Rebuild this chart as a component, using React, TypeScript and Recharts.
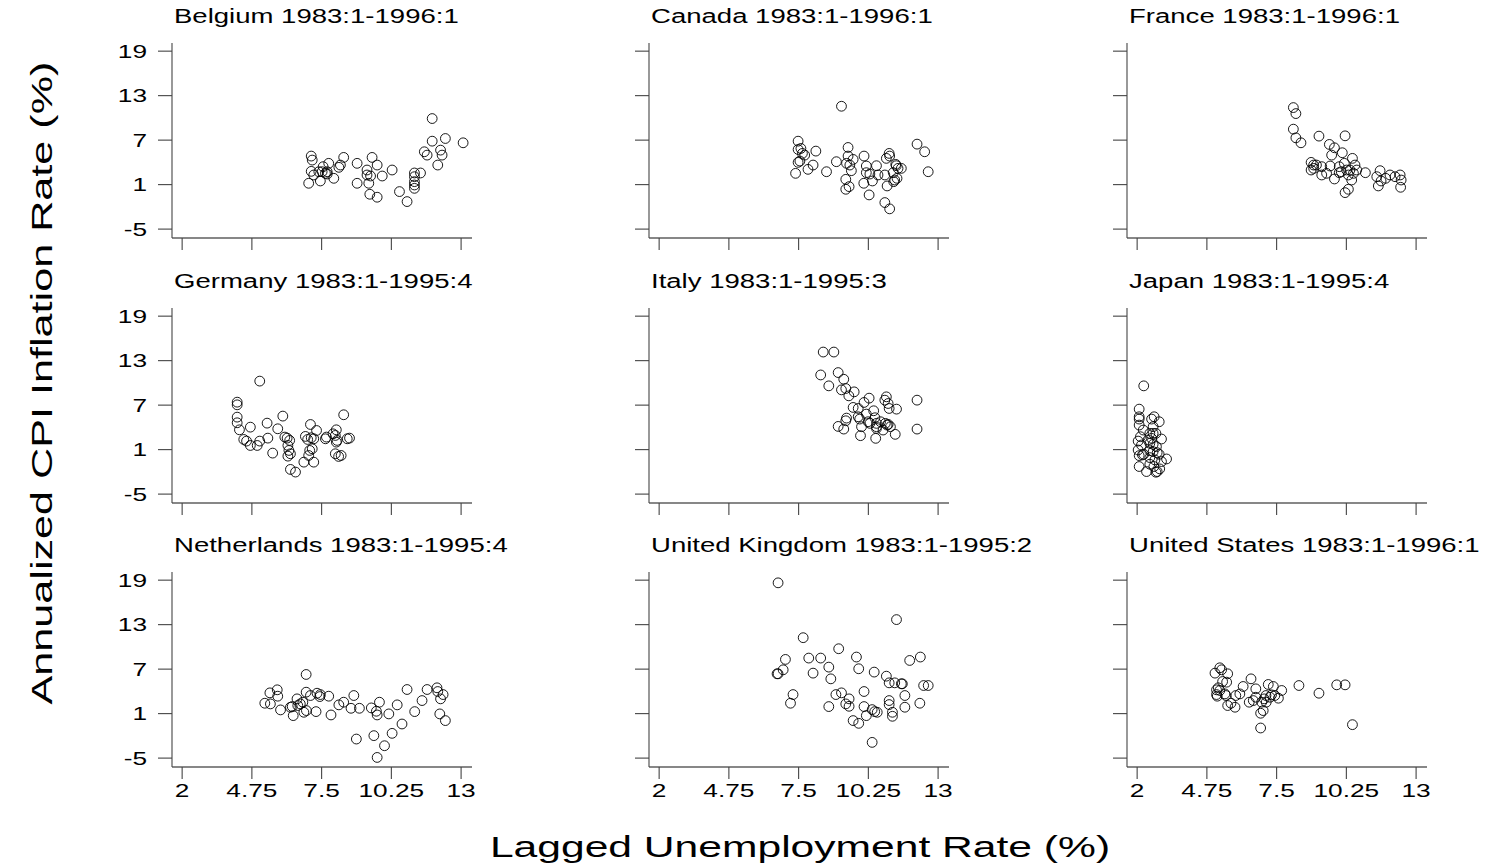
import { ScatterChart, Scatter, XAxis, YAxis } from 'recharts'

// unemployment (x) and inflation (y) per country
const belgiumU = [6.99, 7.09, 7.13, 7.09, 7.19, 7.45, 7.52, 7.56, 7.65, 7.72, 7.78, 7.98, 8.18, 8.24, 8.37, 8.9, 8.9, 9.29, 9.29, 9.36, 9.43, 9.4, 9.49, 9.69, 9.69, 9.89, 10.28, 10.57, 10.87, 11.16, 11.16, 11.16, 11.16, 11.16, 11.4, 11.55, 11.66, 11.86, 11.86, 12.08, 12.19, 12.25, 12.38, 13.08, 7.39, 7.72]
const belgiumInf = [1.18, 4.85, 4.31, 2.79, 2.3, 1.49, 2.74, 3.42, 2.52, 2.43, 3.87, 1.85, 3.33, 3.64, 4.67, 3.87, 1.18, 2.97, 2.3, 1.18, 2.16, -0.3, 4.67, 3.64, -0.7, 2.16, 2.97, 0.06, -1.29, 2.57, 2.07, 1.4, 0.95, 0.5, 2.57, 5.43, 4.98, 9.91, 6.86, 3.64, 5.65, 4.98, 7.22, 6.64, 2.74, 2.74]

const canadaU = [9.19, 7.48, 7.48, 7.59, 7.65, 7.74, 7.48, 7.55, 7.38, 7.87, 8.07, 8.18, 8.6, 8.99, 9.45, 9.45, 9.39, 9.52, 9.65, 9.58, 9.36, 9.36, 9.49, 10.08, 10.17, 10.17, 10.31, 10.07, 10.41, 10.28, 10.57, 10.63, 10.9, 10.96, 11.07, 11.09, 10.99, 10.9, 11.09, 11.23, 11.29, 11.33, 11.42, 11.38, 11.55, 11.25, 12.17, 12.47, 12.61, 11.35]
const canadaInf = [11.57, 6.86, 5.74, 5.88, 5.21, 4.98, 4.0, 4.18, 2.52, 3.06, 3.64, 5.52, 2.74, 4.09, 6.01, 4.85, 3.87, 3.64, 4.4, 2.88, 1.71, 0.37, 0.73, 4.85, 3.51, 2.61, 2.43, 1.18, 1.49, -0.39, 3.55, 2.3, 2.3, 4.54, 5.21, 4.85, 0.82, -1.42, -2.27, 2.61, 1.62, 3.73, 3.19, 1.85, 3.19, 1.4, 6.46, 5.43, 2.74, 3.55]

const franceU = [8.16, 8.26, 8.16, 8.26, 8.46, 9.17, 10.2, 9.58, 9.78, 10.09, 9.67, 10.49, 8.86, 8.86, 8.96, 9.07, 9.28, 9.28, 9.47, 9.61, 9.78, 9.97, 9.97, 10.17, 10.26, 10.33, 10.46, 10.53, 10.59, 10.66, 11.0, 10.33, 10.2, 11.45, 11.58, 11.51, 11.62, 11.8, 11.97, 12.17, 12.37, 12.41, 12.39, 10.39, 10.05, 8.96]
const franceInf = [11.39, 10.58, 8.48, 7.31, 6.64, 7.54, 7.58, 6.42, 5.97, 5.3, 4.98, 4.54, 4.0, 2.97, 3.64, 3.64, 3.42, 2.3, 2.52, 3.51, 1.76, 3.42, 2.61, 3.87, 2.97, 2.3, 1.62, 2.52, 3.64, 2.97, 2.61, 0.37, -0.08, 2.07, 2.88, 0.82, 1.49, 1.85, 2.3, 2.07, 2.3, 1.62, 0.64, 2.97, 2.74, 3.19]

const germanyU = [4.17, 4.17, 4.17, 4.17, 4.26, 4.43, 4.54, 4.69, 4.69, 4.96, 5.06, 5.06, 5.35, 5.38, 5.57, 5.77, 5.97, 6.05, 6.14, 6.24, 6.17, 6.21, 6.17, 6.27, 6.27, 6.47, 6.8, 6.86, 6.95, 7.06, 7.09, 7.03, 6.99, 7.19, 7.19, 7.3, 7.13, 7.65, 7.69, 7.95, 8.08, 8.04, 8.08, 8.04, 8.17, 8.27, 8.37, 8.51, 8.6, 8.11]
const germanyInf = [7.4, 7.04, 5.38, 4.62, 3.67, 2.37, 2.15, 4.03, 1.56, 1.56, 2.15, 10.24, 4.57, 2.55, 0.53, 3.81, 5.52, 2.69, 2.55, 2.24, 1.56, 0.89, 0.12, 0.44, -1.67, -2.03, -0.69, 2.78, 2.37, 4.39, 2.6, 0.89, 0.21, -0.69, 2.46, 3.58, 1.11, 2.46, 2.69, 3.13, 3.67, 2.91, 2.01, 0.44, 0.08, 0.21, 5.7, 2.46, 2.55, 2.24]

const italyU = [8.47, 8.89, 8.37, 9.06, 8.69, 9.28, 9.19, 9.36, 9.69, 9.48, 10.28, 10.08, 9.65, 9.85, 10.17, 10.46, 10.96, 10.9, 11.03, 11.07, 11.36, 12.17, 9.39, 9.36, 9.06, 9.28, 9.85, 9.91, 9.98, 9.94, 10.24, 10.31, 10.51, 10.57, 10.57, 10.54, 10.73, 10.83, 10.92, 10.99, 11.12, 11.31, 12.17, 10.57, 11.03]
const italyInf = [14.16, 14.16, 11.07, 11.39, 9.6, 10.49, 9.06, 9.24, 8.79, 8.25, 7.94, 7.36, 6.69, 6.55, 5.79, 6.24, 8.12, 7.67, 7.22, 6.55, 6.46, 7.67, 5.25, 4.89, 4.13, 3.77, 5.43, 5.12, 4.09, 2.88, 4.76, 4.54, 5.3, 4.54, 4.09, 2.52, 4.76, 3.64, 4.54, 4.31, 4.09, 3.06, 3.77, 3.86, 4.4]

const japanU = [2.26, 2.08, 2.08, 2.08, 2.08, 2.24, 2.13, 2.04, 2.17, 2.04, 2.08, 2.08, 2.26, 2.37, 2.57, 2.67, 2.87, 2.63, 2.5, 2.63, 2.74, 2.96, 2.5, 2.63, 2.76, 2.5, 2.63, 2.79, 2.87, 2.5, 2.7, 2.96, 3.16, 2.5, 2.66, 2.89, 2.74, 2.79, 2.43, 2.21, 2.57]
const japanInf = [9.6, 6.46, 5.43, 5.12, 4.31, 3.64, 2.74, 2.15, 1.62, 0.95, 0.19, -1.28, 0.37, -1.96, 5.12, 5.43, 4.76, 4.09, 3.19, 3.19, 3.19, 2.43, 1.85, 1.71, 1.4, 0.86, 0.73, 0.59, 0.37, -0.08, -0.39, -0.61, -0.26, -0.97, -1.28, -1.6, -2.05, -1.96, 2.3, 0.28, 2.52]

const netherlandsU = [5.26, 5.46, 5.48, 5.75, 5.77, 5.88, 6.27, 6.38, 6.53, 6.56, 6.66, 6.76, 6.8, 6.89, 6.89, 6.9, 7.06, 7.28, 7.32, 7.43, 7.45, 7.78, 7.87, 8.18, 8.37, 8.66, 8.77, 8.87, 8.99, 9.46, 9.56, 9.66, 9.69, 9.78, 9.69, 9.98, 10.15, 10.28, 10.48, 10.67, 10.87, 11.17, 11.46, 11.66, 12.05, 12.08, 12.19, 12.29, 12.16, 12.38, 6.34]
const netherlandsInf = [2.4, 3.8, 2.31, 4.21, 3.35, 1.5, 1.86, 0.73, 2.99, 2.09, 2.31, 2.54, 1.18, 6.28, 3.89, 1.41, 3.44, 1.27, 3.75, 3.3, 3.57, 3.35, 0.82, 2.18, 2.54, 1.72, 3.44, -2.43, 1.72, 1.77, -1.97, 1.32, 0.82, 2.54, -4.91, -3.33, 0.96, -1.66, 2.18, -0.4, 4.25, 1.27, 2.76, 4.25, 4.48, 3.98, 2.99, 3.57, 0.96, 0.06, 1.95]

const ukU = [6.69, 11.36, 7.68, 9.08, 6.98, 7.9, 8.37, 9.78, 11.88, 12.3, 6.89, 6.65, 6.69, 8.07, 8.69, 8.77, 9.87, 10.48, 10.96, 11.07, 11.29, 11.59, 12.43, 12.61, 7.28, 7.18, 8.69, 8.97, 9.19, 9.49, 9.36, 9.49, 10.08, 10.08, 10.17, 9.65, 9.87, 10.4, 10.5, 10.6, 10.4, 11.07, 11.07, 11.2, 11.2, 11.69, 11.69, 12.28, 11.55]
const ukInf = [18.64, 13.68, 11.24, 9.75, 8.31, 8.49, 8.49, 8.63, 8.17, 8.63, 6.91, 6.37, 6.37, 6.46, 7.27, 5.69, 7.05, 6.6, 6.05, 5.15, 5.15, 5.02, 4.79, 4.79, 3.57, 2.4, 1.95, 3.57, 3.8, 2.99, 2.31, 1.99, 3.98, 1.95, 0.73, 0.06, -0.31, 1.54, 1.27, 1.18, -2.88, 2.76, 2.22, 1.18, 0.64, 3.44, 1.86, 2.4, 5.02]

const usU = [5.26, 5.07, 5.33, 5.57, 5.37, 5.53, 5.13, 5.2, 5.26, 5.13, 5.16, 5.46, 5.5, 5.57, 5.7, 5.86, 5.89, 6.05, 6.18, 6.49, 6.42, 6.58, 6.68, 6.68, 6.87, 6.87, 6.97, 6.91, 7.01, 7.08, 7.17, 7.24, 7.3, 7.37, 7.43, 7.57, 7.7, 8.38, 9.17, 9.87, 10.2, 10.49, 7.09]
const usInf = [7.18, 6.46, 6.91, 6.37, 5.33, 5.24, 4.21, 4.48, 4.12, 3.57, 3.35, 3.66, 3.44, 2.09, 2.4, 1.86, 3.44, 3.66, 4.66, 5.69, 2.54, 2.76, 4.34, 3.21, 1.05, -0.94, 1.41, 2.54, 2.99, 3.44, 4.93, 3.21, 3.53, 4.66, 3.44, 3.08, 4.12, 4.79, 3.75, 4.88, 4.88, -0.49, 2.54]

const titles = [
  'Belgium 1983:1-1996:1', 'Canada 1983:1-1996:1', 'France 1983:1-1996:1',
  'Germany 1983:1-1995:4', 'Italy 1983:1-1995:3', 'Japan 1983:1-1995:4',
  'Netherlands 1983:1-1995:4', 'United Kingdom 1983:1-1995:2', 'United States 1983:1-1996:1',
]
const xTicks = [2, 4.75, 7.5, 10.25, 13]
const yTicks = [-5, 1, 7, 13, 19]

const zip = (u: number[], inf: number[]) => u.map((x, i) => ({ x, y: inf[i] }))
const panels = [
  zip(belgiumU, belgiumInf), zip(canadaU, canadaInf), zip(franceU, franceInf),
  zip(germanyU, germanyInf), zip(italyU, italyInf), zip(japanU, japanInf),
  zip(netherlandsU, netherlandsInf), zip(ukU, ukInf), zip(usU, usInf),
]

const FONT = '"Liberation Sans", Arial, Helvetica, sans-serif'
const STRETCH = 1.42
// pixel position of x=2 per column and y=19 per row
const COL_X2 = [182, 659, 1137]
const ROW_Y19 = [51, 315.7, 580]
const PLOT_W = 300
const PLOT_H = 195
const Y_AXIS_W = 60
const TOP_PAD = 10

const ring = (p: any) => (
  <circle cx={p.cx} cy={p.cy} r={4.9} fill="none" stroke="#000" strokeWidth={0.9} />
)

function Panel({ idx }: { idx: number }) {
  const col = idx % 3
  const row = Math.floor(idx / 3)
  const left = COL_X2[col] - 10.14 - Y_AXIS_W
  const top = ROW_Y19[row] - 8.16 - TOP_PAD
  const showX = row === 2
  const showY = col === 0
  return (
    <div style={{ position: 'absolute', left, top }}>
      <ScatterChart
        width={Y_AXIS_W + PLOT_W + 20}
        height={TOP_PAD + PLOT_H + 45}
        margin={{ top: TOP_PAD, right: 20, bottom: 0, left: 0 }}
      >
        <XAxis
          type="number"
          dataKey="x"
          domain={[1.6, 13.43]}
          ticks={xTicks}
          interval={0}
          allowDataOverflow
          height={45}
          tickSize={12}
          tickMargin={5}
          axisLine={{ stroke: '#111', strokeWidth: 1.1 }}
          tickLine={{ stroke: '#444', strokeWidth: 1.1 }}
          tick={(t: any) =>
            showX ? (
              <text
                transform={`translate(${t.x},${t.y + 13.2}) scale(${STRETCH},1)`}
                textAnchor="middle"
                fontFamily={FONT}
                fontSize={18.5}
                fill="#000"
              >
                {t.payload.value}
              </text>
            ) : (
              <g />
            )
          }
        />
        <YAxis
          type="number"
          dataKey="y"
          domain={[-6.2, 20.1]}
          ticks={yTicks}
          interval={0}
          allowDataOverflow
          width={Y_AXIS_W}
          tickSize={14}
          tickMargin={11}
          axisLine={{ stroke: '#444', strokeWidth: 1.1 }}
          tickLine={{ stroke: '#444', strokeWidth: 1.1 }}
          tick={(t: any) =>
            showY ? (
              <text
                transform={`translate(${t.x},${t.y + 6.6}) scale(${STRETCH},1)`}
                textAnchor="end"
                fontFamily={FONT}
                fontSize={18.5}
                fill="#000"
              >
                {t.payload.value}
              </text>
            ) : (
              <g />
            )
          }
        />
        <Scatter data={panels[idx]} isAnimationActive={false} shape={ring} />
      </ScatterChart>
    </div>
  )
}

export default function App() {
  return (
    <div style={{ position: 'absolute', left: 0, top: 0, width: 1492, height: 866, background: '#fff' }}>
      {panels.map((_, i) => (
        <Panel key={i} idx={i} />
      ))}
      <svg
        width={1492}
        height={866}
        style={{ position: 'absolute', left: 0, top: 0, pointerEvents: 'none' }}
        fontFamily={FONT}
      >
        {titles.map((t, i) => {
          const col = i % 3
          const row = Math.floor(i / 3)
          const tx = COL_X2[col] - 8
          const ty = ROW_Y19[row] - 28
          return (
            <text key={t} transform={`translate(${tx},${ty}) scale(1.42,1)`} fontSize={19.4} fill="#000">
              {t}
            </text>
          )
        })}
        <text
          transform={`translate(800,857) scale(${STRETCH},1)`}
          textAnchor="middle"
          fontSize={30}
          fill="#000"
        >
          Lagged Unemployment Rate (%)
        </text>
        <text
          transform={`translate(52,383) rotate(-90) scale(${STRETCH},1)`}
          textAnchor="middle"
          fontSize={30.4}
          fill="#000"
        >
          Annualized CPI Inflation Rate (%)
        </text>
      </svg>
    </div>
  )
}
